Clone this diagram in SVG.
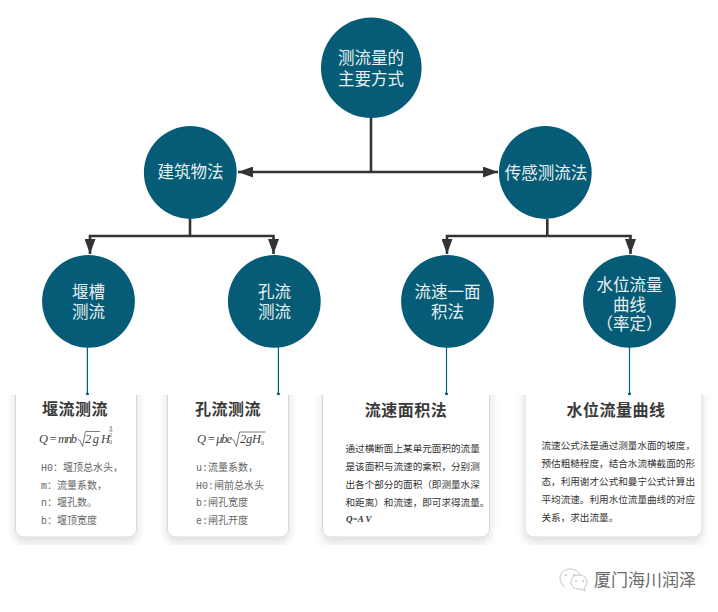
<svg xmlns="http://www.w3.org/2000/svg" width="718" height="612" viewBox="0 0 718 612">
<style>
.c{fill:#065c76}
.t{font-family:"Noto Sans CJK SC","Noto Sans",sans-serif;font-size:16.5px;fill:#e8f0f2;text-anchor:middle}
.l{fill:none;stroke:#333;stroke-width:2.6}
.p{fill:none;stroke:#005f7f;stroke-width:1.2}
.card{fill:#fff;stroke:#d9d9d9;stroke-width:1}
.h{font-family:"Noto Sans CJK SC",sans-serif;font-size:16px;font-weight:700;fill:#3a3a3a;text-anchor:middle}
.s{font-family:"Liberation Mono","Noto Sans CJK SC",monospace;font-size:10px;fill:#666}
.b{font-family:"Noto Sans CJK SC",sans-serif;font-size:9.6px;fill:#333}
.f{font-family:"Liberation Serif",serif;font-style:italic;font-size:12.5px;fill:#444}
.e{font-family:"Liberation Serif",serif;font-size:6px;fill:#555}
.r{fill:none;stroke:#444;stroke-width:.7}
.w{fill:none;stroke:#c4c4c4;stroke-width:1}
</style>
<defs>
<marker id="a" markerUnits="userSpaceOnUse" markerWidth="16" markerHeight="11" refX="15" refY="5.500" orient="auto"><path d="M0 0L15 5.500L0 11Z" fill="#333"/></marker>
<marker id="d" markerUnits="userSpaceOnUse" markerWidth="4" markerHeight="4" refX="2" refY="2"><circle cx="2" cy="2" r="1.600" fill="#005f7f"/></marker>
<filter id="sh" x="-20%" y="-20%" width="140%" height="130%"><feDropShadow dx="0" dy="5" stdDeviation="5" flood-color="#000" flood-opacity=".13"/></filter>
<clipPath id="cl"><rect x="0" y="395" width="718" height="150"/></clipPath>
</defs>
<rect width="718" height="612" fill="#fff"/>
<g id="connectors">
<path class="l" d="M371 118V172"/>
<path class="l" marker-end="url(#a)" d="M371 172H238"/>
<path class="l" marker-end="url(#a)" d="M371 172H498"/>
<path class="l" d="M190 218V236"/>
<path class="l" marker-end="url(#a)" d="M190 236H90V254"/>
<path class="l" marker-end="url(#a)" d="M190 236H273.500V254"/>
<path class="l" d="M547.300 219V236"/>
<path class="l" marker-end="url(#a)" d="M547.300 236H447V254"/>
<path class="l" marker-end="url(#a)" d="M547.300 236H630.500V254"/>
<path class="p" marker-end="url(#d)" d="M87.400 347V394"/>
<path class="p" marker-end="url(#d)" d="M278.400 347V394"/>
<path class="p" marker-end="url(#d)" d="M446.500 347V394"/>
<path class="p" marker-end="url(#d)" d="M629.500 347V394"/>
</g>
<g id="n-root"><circle class="c" cx="371.300" cy="67.700" r="50.300"/><text class="t"><tspan x="371" y="64">测流量的</tspan><tspan x="371" y="85">主要方式</tspan></text></g>
<g id="n-building"><circle class="c" cx="190.300" cy="172.500" r="46.400"/><text class="t" x="190.500" y="178">建筑物法</text></g>
<g id="n-sensor"><circle class="c" cx="545.300" cy="172.500" r="46.400"/><text class="t" x="546" y="179">传感测流法</text></g>
<g id="n-weir"><circle class="c" cx="88.500" cy="301.300" r="46.400"/><text class="t"><tspan x="88.500" y="298">堰槽</tspan><tspan x="88.500" y="318">测流</tspan></text></g>
<g id="n-orifice"><circle class="c" cx="274.300" cy="301.300" r="46.400"/><text class="t"><tspan x="274.500" y="298">孔流</tspan><tspan x="274.500" y="318">测流</tspan></text></g>
<g id="n-area"><circle class="c" cx="447.500" cy="301.300" r="46.400"/><text class="t"><tspan x="447.500" y="298">流速一面</tspan><tspan x="447.500" y="318">积法</tspan></text></g>
<g id="n-curve"><circle class="c" cx="629.500" cy="301.300" r="46.400"/><text class="t"><tspan x="629.500" y="290.500">水位流量</tspan><tspan x="629.500" y="311">曲线</tspan><tspan x="629.500" y="330">（率定）</tspan></text></g>
<g id="card-weir">
<g clip-path="url(#cl)"><rect class="card" filter="url(#sh)" x="15.500" y="370" width="121" height="167" rx="8"/></g>
<text class="h" x="75" y="415" style="letter-spacing:.5px">堰流测流</text>
<text class="f" x="39" y="443" textLength="38">Q = mnb</text><path class="r" d="M78 439.500l2 1 2.500 6 3-15h14.500"/>
<text class="f" x="85" y="443" textLength="14">2 g</text><text class="f" x="101" y="443">H</text><text class="e" x="109" y="430">3</text><path class="r" d="M109.500 431h3"/><text class="e" x="109" y="437">2</text><text class="e" x="109" y="444">0</text>
<text class="s" x="41" y="471">H0：堰顶总水头，</text>
<text class="s" x="41" y="489">m：流量系数，</text>
<text class="s" x="41" y="506">n：堰孔数。</text>
<text class="s" x="41" y="524">b：堰顶宽度</text>
</g>
<g id="card-orifice">
<g clip-path="url(#cl)"><rect class="card" filter="url(#sh)" x="167.500" y="370" width="121" height="167" rx="8"/></g>
<text class="h" x="228" y="415" style="letter-spacing:.5px">孔流测流</text>
<text class="f" x="197" y="443" textLength="35">Q = μbe</text><path class="r" d="M232 439.500l2 1 2.500 6 3-14.500h26"/>
<text class="f" x="240" y="443" textLength="21">2gH</text><text class="e" x="261" y="445">0</text>
<text class="s" x="196" y="471">u:流量系数，</text>
<text class="s" x="196" y="489">H0:闸前总水头</text>
<text class="s" x="196" y="506">b:闸孔宽度</text>
<text class="s" x="196" y="524">e:闸孔开度</text>
</g>
<g id="card-area">
<g clip-path="url(#cl)"><rect class="card" filter="url(#sh)" x="322.500" y="370" width="167" height="167" rx="8"/></g>
<text class="h" x="406" y="416" style="letter-spacing:.5px">流速面积法</text>
<text class="b" x="345.500" y="452">通过横断面上某单元面积的流量</text>
<text class="b" x="345.500" y="470">是该面积与流速的乘积，分别测</text>
<text class="b" x="345.500" y="488">出各个部分的面积（即测量水深</text>
<text class="b" x="345.500" y="506">和距离）和流速，即可求得流量。</text>
<text class="f" x="346" y="522" style="font-weight:700;font-size:9px;fill:#333">Q=A  V</text>
</g>
<g id="card-curve">
<g clip-path="url(#cl)"><rect class="card" filter="url(#sh)" x="525" y="370" width="177" height="167" rx="8"/></g>
<text class="h" x="616" y="416" style="letter-spacing:.5px">水位流量曲线</text>
<text class="b" x="541.500" y="449">流速公式法是通过测量水面的坡度，</text>
<text class="b" x="541.500" y="467">预估粗糙程度，结合水流横截面的形</text>
<text class="b" x="541.500" y="485">态，利用谢才公式和曼宁公式计算出</text>
<text class="b" x="541.500" y="503">平均流速。利用水位流量曲线的对应</text>
<text class="b" x="541.500" y="521">关系，求出流量。</text>
</g>
<g id="watermark">
<path class="w" d="M565 587c-3-2-5-5-5-9 0-5 5-9 10-9s9 3 10 7"/>
<path class="w" d="M571 582c0-4 3-7 8-7s8 3 8 7c0 3-2 5-3 6l1 3-4-2c-5 1-10-2-10-7z"/>
<circle cx="566" cy="575" r="1" fill="#c4c4c4"/><circle cx="574" cy="575" r="1" fill="#c4c4c4"/><circle cx="576" cy="581" r="1" fill="#c4c4c4"/><circle cx="583" cy="581" r="1" fill="#c4c4c4"/>
<text x="594" y="586" style="font-family:'Noto Sans CJK SC',sans-serif;font-size:17px;fill:#6a6a6a">厦门海川润泽</text>
</g>
</svg>
